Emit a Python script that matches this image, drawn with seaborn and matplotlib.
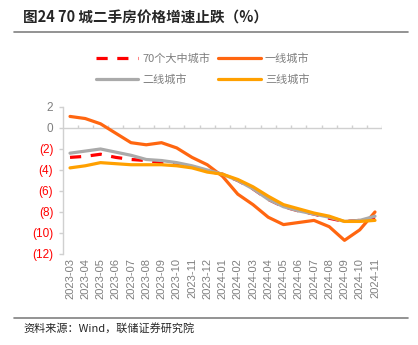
import matplotlib
matplotlib.use("Agg")
import matplotlib.pyplot as plt
import seaborn as sns
import pandas as pd
from matplotlib.lines import Line2D

months = ["2023-03", "2023-04", "2023-05", "2023-06", "2023-07", "2023-08", "2023-09",
          "2023-10", "2023-11", "2023-12", "2024-01", "2024-02", "2024-03", "2024-04",
          "2024-05", "2024-06", "2024-07", "2024-08", "2024-09", "2024-10", "2024-11"]
city70 = [-2.8, -2.7, -2.5, -2.8, -3.0, -3.1, -3.3, -3.4, -3.7, -4.1, -4.4, -5.0, -5.8,
          -6.8, -7.5, -7.9, -8.2, -8.6, -8.9, -8.8, -8.5]
tier1 = [1.1, 0.9, 0.4, -0.5, -1.4, -1.6, -1.4, -1.9, -2.8, -3.5, -4.6, -6.3, -7.3,
         -8.5, -9.2, -9.0, -8.8, -9.4, -10.7, -9.7, -8.0]
tier2 = [-2.4, -2.2, -2.0, -2.3, -2.6, -3.0, -3.1, -3.3, -3.6, -4.0, -4.4, -5.0, -5.8,
         -6.8, -7.5, -7.9, -8.2, -8.5, -8.9, -8.8, -8.4]
tier3 = [-3.8, -3.6, -3.3, -3.4, -3.5, -3.5, -3.5, -3.6, -3.8, -4.2, -4.4, -4.9, -5.6,
         -6.5, -7.3, -7.7, -8.1, -8.4, -8.9, -8.9, -8.8]
series_names = ["70个大中城市", "一线城市", "二线城市", "三线城市"]
colors = ["#FF0000", "#FF6610", "#AAAAAA", "#FFA000"]
yticks = [2, 0, -2, -4, -6, -8, -10, -12]
ytick_labels = ["2", "0", "(2)", "(4)", "(6)", "(8)", "(10)", "(12)"]

sns.set_style("white")
plt.rcParams["font.family"] = ["Liberation Sans", "Noto Sans CJK SC", "DejaVu Sans"]

df = pd.DataFrame({"month": months, series_names[0]: city70, series_names[1]: tier1,
                   series_names[2]: tier2, series_names[3]: tier3})
long = df.melt(id_vars="month", var_name="series", value_name="value")

fig = plt.figure(figsize=(4.18, 3.45), dpi=100)
ax = fig.add_axes([0.1507, 0.2638, 0.7632, 0.4261])

for name, col in zip(series_names, colors):
    sub = long[long["series"] == name]
    kw = dict(lw=2.3, color=col, ax=ax, legend=False)
    if name == series_names[0]:
        sns.lineplot(data=sub, x="month", y="value", dashes=False, linestyle=(0, (3.5, 3)), **kw)
    else:
        sns.lineplot(data=sub, x="month", y="value", **kw)

n = len(months)
ax.set_xlim(-0.46, n - 1 + 0.46)
ax.set_ylim(-12, 2)
ax.set_xlabel("")
ax.set_ylabel("")
ax.set_xticks(range(n))
ax.set_xticklabels(months, rotation=90, fontsize=8, color="#7F7F7F")
ax.tick_params(axis="x", length=0, pad=3)
ax.set_yticks(yticks)
ax.set_yticklabels(ytick_labels, fontsize=8.5)
for lab, v in zip(ax.get_yticklabels(), yticks):
    lab.set_color("#7F7F7F" if v >= 0 else "#FF0000")
ax.tick_params(axis="y", length=3, color="#D0D0D0", width=1, pad=4, left=True)
for s in ["top", "right", "bottom"]:
    ax.spines[s].set_visible(False)
ax.spines["left"].set_color("#D0D0D0")
ax.spines["left"].set_linewidth(1)
ax.axhline(0, color="#D0D0D0", lw=1, zorder=1)
ax.vlines([i + 0.5 for i in range(n - 1)] + [n - 1 + 0.46], 0, 0.3, color="#D0D0D0", lw=1, zorder=1)

handles = [Line2D([], [], color=c, lw=2.3, linestyle=(0, (3.5, 3)) if i == 0 else "-")
           for i, c in enumerate(colors)]
order = [0, 2, 1, 3]
leg = fig.legend([handles[i] for i in order], [series_names[i] for i in order],
                 ncol=2, loc="center", bbox_to_anchor=(0.485, 0.80), frameon=False,
                 fontsize=8, handlelength=3.8, columnspacing=0.7, labelspacing=0.9,
                 handletextpad=0.4,
                 prop={"family": ["Noto Sans CJK SC", "DejaVu Sans"], "size": 8})
for t in leg.get_texts():
    t.set_color("#7F7F7F")

fig.text(0.055, 0.948, "图24 70 城二手房价格增速止跌（%）", fontsize=10.5, fontweight="bold",
         va="center", ha="left", family=["Noto Sans CJK SC", "DejaVu Sans"])
fig.add_artist(Line2D([14 / 418, 408 / 418], [0.907, 0.907], color="#808080", lw=1.2))
fig.add_artist(Line2D([14 / 418, 408 / 418], [0.078, 0.078], color="#808080", lw=1.2))
fig.text(0.055, 0.048, "资料来源：Wind，联储证券研究院", fontsize=8, va="center", ha="left",
         family=["Noto Sans CJK SC", "DejaVu Sans"])

fig.savefig("out.png", dpi=100)
